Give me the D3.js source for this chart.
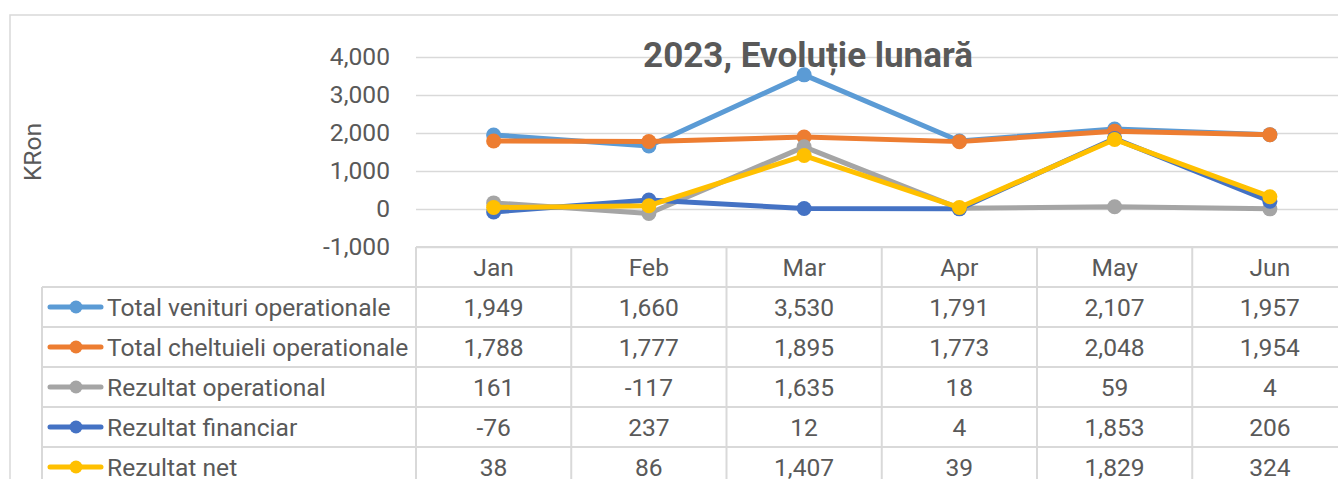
<!DOCTYPE html>
<html>
<head>
<meta charset="utf-8">
<script src="https://cdn.jsdelivr.net/npm/d3@7"></script>
<style>
  body { margin: 0; background: #fff; }
  text { font-family: Roboto, "Open Sans", sans-serif; fill: #595959; }
</style>
</head>
<body>
<script>
/*
* Date: luni, serii si etichetele axei
*/
var months = ["Jan", "Feb", "Mar", "Apr", "May", "Jun"];
var seriesNames = ["Total venituri operationale", "Total cheltuieli operationale",
    "Rezultat operational", "Rezultat financiar", "Rezultat net"];
var venituri = [1949, 1660, 3530, 1791, 2107, 1957];
var cheltuieli = [1788, 1777, 1895, 1773, 2048, 1954];
var operational = [161, -117, 1635, 18, 59, 4];
var financiar = [-76, 237, 12, 4, 1853, 206];
var net = [38, 86, 1407, 39, 1829, 324];
var yTicks = [-1000, 0, 1000, 2000, 3000, 4000];

var seriesValues = [venituri, cheltuieli, operational, financiar, net];
var colors = ["#5B9BD5", "#ED7D31", "#A5A5A5", "#4472C4", "#FFC000"];

var width = 1338, height = 479;
var plotLeft = 416, plotRight = 1347.5;
var tableLeft = 42;
var gridColor = "#d9d9d9";
var fontSize = "24.6px";

var fmt = d3.formatLocale({decimal: ".", thousands: ",", grouping: [3], currency: ["", ""], minus: "-"}).format(",");

var svg = d3.select("body").append("svg")
    .attr("width", width)
    .attr("height", height);

svg.append("rect").attr("width", width).attr("height", height).attr("fill", "#fff");

// chenarul graficului (taiat in dreapta si jos)
svg.append("rect")
    .attr("x", 10).attr("y", 15)
    .attr("width", 1400).attr("height", 600)
    .attr("fill", "none").attr("stroke", gridColor).attr("stroke-width", 1.5);

var x = d3.scaleBand().domain(months).range([plotLeft, plotRight]);
var y = d3.scaleLinear().domain([-1000, 4000]).range([247, 57]);

// liniile de grila
var grid = svg.append("g")
    .attr("transform", "translate(" + plotLeft + ",0)")
    .call(d3.axisLeft(y).tickValues(yTicks).tickSize(-(plotRight - plotLeft)).tickFormat(""));
grid.select(".domain").remove();
grid.selectAll("line").attr("stroke", gridColor).attr("stroke-width", 1.5);

// etichetele axei Y
var yAxis = svg.append("g")
    .attr("transform", "translate(" + plotLeft + ",0)")
    .call(d3.axisLeft(y).tickValues(yTicks).tickSize(0).tickPadding(26).tickFormat(fmt));
yAxis.select(".domain").remove();
yAxis.selectAll("text").style("font-size", fontSize).attr("fill", "#595959")
    .style("font-family", "Roboto, sans-serif");

svg.append("text")
    .attr("transform", "translate(41,152) rotate(-90)")
    .attr("text-anchor", "middle")
    .style("font-size", fontSize)
    .text("KRon");

// titlul
svg.append("text")
    .attr("x", 808).attr("y", 67)
    .attr("text-anchor", "middle")
    .style("font-size", "35px")
    .style("font-weight", "bold")
    .text("2023, Evoluție lunară");

/*
* Tabelul de date de sub grafic
*/
var rowKeys = ["header"].concat(seriesNames);
var rows = d3.scaleBand().domain(rowKeys).range([247, 247 + 40 * rowKeys.length]);
var table = svg.append("g");

rowKeys.forEach(function(k, i) {
    var x0 = i === 0 ? plotLeft : tableLeft;
    table.append("line")
        .attr("x1", x0).attr("x2", plotRight + 20)
        .attr("y1", rows(k)).attr("y2", rows(k))
        .attr("stroke", gridColor).attr("stroke-width", 2);
});

table.append("line")
    .attr("x1", tableLeft).attr("x2", tableLeft)
    .attr("y1", rows(seriesNames[0])).attr("y2", height + 10)
    .attr("stroke", gridColor).attr("stroke-width", 2);

months.concat([null]).forEach(function(m) {
    var xx = m === null ? plotRight : x(m);
    table.append("line")
        .attr("x1", xx).attr("x2", xx)
        .attr("y1", rows("header")).attr("y2", height + 10)
        .attr("stroke", gridColor).attr("stroke-width", 2);
});

table.selectAll("text.month").data(months).enter().append("text")
    .attr("class", "month")
    .attr("x", function(d) { return x(d) + x.bandwidth() / 2; })
    .attr("y", rows("header") + rows.bandwidth() / 2)
    .attr("dy", "0.35em")
    .attr("text-anchor", "middle")
    .style("font-size", fontSize)
    .text(function(d) { return d; });

seriesNames.forEach(function(name, s) {
    var cy = rows(name) + rows.bandwidth() / 2;
    table.append("line")
        .attr("x1", 50).attr("x2", 101)
        .attr("y1", cy).attr("y2", cy)
        .attr("stroke", colors[s]).attr("stroke-width", 5)
        .attr("stroke-linecap", "round");
    table.append("circle")
        .attr("cx", 76).attr("cy", cy).attr("r", 6.5)
        .attr("fill", colors[s]);
    table.append("text")
        .attr("x", 107).attr("y", cy).attr("dy", "0.35em")
        .style("font-size", fontSize)
        .text(name);
    table.selectAll("text.v" + s).data(seriesValues[s]).enter().append("text")
        .attr("class", "v" + s)
        .attr("x", function(d, i) { return x(months[i]) + x.bandwidth() / 2; })
        .attr("y", cy).attr("dy", "0.35em")
        .attr("text-anchor", "middle")
        .style("font-size", fontSize)
        .text(function(d) { return fmt(d); });
});

/*
* Liniile si markerii pentru fiecare serie
*/
var line = d3.line()
    .x(function(d, i) { return x(months[i]) + x.bandwidth() / 2; })
    .y(function(d) { return y(d); });

seriesValues.forEach(function(vals, s) {
    var g = svg.append("g");
    g.append("path")
        .datum(vals)
        .attr("d", line)
        .attr("fill", "none")
        .attr("stroke", colors[s])
        .attr("stroke-width", 5)
        .attr("stroke-linejoin", "round");
    g.selectAll("circle").data(vals).enter().append("circle")
        .attr("cx", function(d, i) { return x(months[i]) + x.bandwidth() / 2; })
        .attr("cy", function(d) { return y(d); })
        .attr("r", 7.5)
        .attr("fill", colors[s]);
});
</script>
</body>
</html>
